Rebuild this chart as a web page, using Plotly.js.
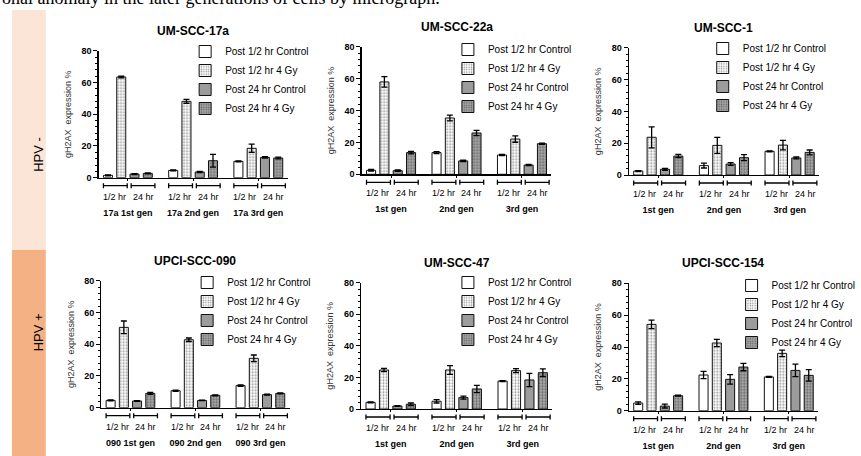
<!DOCTYPE html>
<html><head><meta charset="utf-8">
<script src="https://cdn.plot.ly/plotly-3.0.1.min.js"></script>
<style>html,body{margin:0;padding:0;background:#fff}#chart{width:861px;height:456px}</style>
</head><body><div id="chart"></div>
<script>
// ---------- data ----------
const seriesNames = ["Post 1/2 hr Control", "Post 1/2 hr 4 Gy", "Post 24 hr Control", "Post 24 hr 4 Gy"];
const panelTitles = ["UM-SCC-17a", "UM-SCC-22a", "UM-SCC-1", "UPCI-SCC-090", "UM-SCC-47", "UPCI-SCC-154"];
const gens17a = ["17a 1st gen", "17a 2nd gen", "17a 3rd gen"];
const gensPlain = ["1st gen", "2nd gen", "3rd gen"];
const gens090 = ["090 1st gen", "090 2nd gen", "090 3rd gen"];
const timeLabels = ["1/2 hr", "24 hr"];
const groupLabels = ["HPV -", "HPV +"];
const yTitle = "gH2AX  expression %";
const topText = "onal anomaly in the later generations of cells by micrograph.";

// rows = series (in seriesNames order), columns = generations
const um17aMean = [[1.5, 4.6, 10.3], [63.4, 48.1, 18.5], [2.3, 3.6, 12.8], [2.7, 10.7, 12.4]];
const um17aErr  = [[0.3, 0.3, 0.3], [0.5, 1.2, 2.6], [0.3, 0.4, 0.4], [0.3, 4.0, 0.5]];
const um22aMean = [[2.5, 13.6, 12.1], [57.9, 35.3, 22.1], [2.3, 8.4, 5.8], [13.6, 25.9, 19.2]];
const um22aErr  = [[0.5, 0.6, 0.4], [3.3, 1.8, 2.0], [0.4, 0.4, 0.4], [0.8, 1.6, 0.4]];
const um1Mean   = [[2.5, 5.9, 14.9], [23.7, 18.6, 18.8], [3.6, 6.9, 10.7], [11.9, 10.9, 14.2]];
const um1Err    = [[0.3, 1.5, 0.3], [6.6, 5.0, 3.0], [0.6, 0.9, 0.6], [1.0, 1.9, 1.5]];
const upci090Mean = [[4.6, 10.7, 13.9], [50.6, 42.8, 31.1], [4.2, 4.6, 8.2], [9.0, 7.8, 9.0]];
const upci090Err  = [[0.3, 0.4, 0.4], [4.0, 1.1, 2.1], [0.2, 0.2, 0.3], [0.6, 0.3, 0.3]];
const um47Mean  = [[4.2, 4.9, 17.7], [24.7, 24.7, 24.3], [1.9, 7.2, 18.4], [3.0, 12.7, 23.0]];
const um47Err   = [[0.3, 1.1, 0.3], [1.0, 2.8, 1.3], [0.3, 1.0, 4.2], [0.8, 2.3, 2.4]];
const upci154Mean = [[4.8, 22.4, 21.2], [54.2, 42.5, 36.0], [2.9, 19.7, 25.3], [9.4, 27.4, 22.2]];
const upci154Err  = [[0.8, 2.3, 0.3], [2.7, 2.3, 2.0], [1.2, 3.0, 3.9], [0.3, 2.3, 3.6]];

// ---------- build ----------
const W = 861, H = 456;
const FONT = "Liberation Sans, Arial, sans-serif";
const panelGens = [gens17a, gensPlain, gensPlain, gens090, gensPlain, gensPlain];
const panelMeans = [um17aMean, um22aMean, um1Mean, upci090Mean, um47Mean, upci154Mean];
const panelErrs = [um17aErr, um22aErr, um1Err, upci090Err, um47Err, upci154Err];

// plot boxes in pixels: left, right, top, bottom
const boxes = [
  [99, 289, 50.7, 177.7],
  [363.3, 554, 46.7, 174.3],
  [631.7, 823, 47.7, 175],
  [101.7, 291, 280.7, 407.7],
  [362.7, 555, 282.7, 409],
  [631.7, 822, 283.3, 410.7]
];
const legendPos = [[186, 37], [450, 35], [706, 34], [188, 268], [450, 268], [735, 271]];

const lineStyle = {color: '#111', width: 1};
const styles = [
  {color: '#ffffff', line: lineStyle},
  {color: '#ffffff', line: lineStyle, pattern: {shape: '.', fillmode: 'replace', bgcolor: '#ffffff', fgcolor: '#909090', size: 3, solidity: 0.3}},
  {color: '#9c9c9c', line: lineStyle},
  {color: '#a4a4a4', line: lineStyle, pattern: {shape: '.', fillmode: 'replace', bgcolor: '#a6a6a6', fgcolor: '#606060', size: 3, solidity: 0.3}}
];

const traces = [];
const layout = {
  width: W, height: H,
  margin: {l: 0, r: 0, t: 0, b: 0},
  paper_bgcolor: '#ffffff', plot_bgcolor: 'rgba(0,0,0,0)',
  font: {family: FONT, color: '#000'},
  barmode: 'group', bargap: 0.186, bargroupgap: 0.32,
  showlegend: true,
  shapes: [], annotations: []
};

// side bands
layout.shapes.push({type: 'rect', xref: 'paper', yref: 'paper', x0: 12 / W, x1: 46 / W, y0: 1 - 250 / H, y1: 1 - 10 / H, fillcolor: '#FBE5D6', line: {width: 0}, layer: 'below'});
layout.shapes.push({type: 'rect', xref: 'paper', yref: 'paper', x0: 12 / W, x1: 46 / W, y0: 0, y1: 1 - 250 / H, fillcolor: '#F4B183', line: {width: 0}, layer: 'below'});
layout.annotations.push({xref: 'paper', yref: 'paper', x: 29 / W, y: 1 - 135 / H, text: groupLabels[0], textangle: -90, showarrow: false, font: {size: 13, family: FONT}});
layout.annotations.push({xref: 'paper', yref: 'paper', x: 29 / W, y: 1 - 353 / H, text: groupLabels[1], textangle: -90, showarrow: false, font: {size: 13, family: FONT}});
layout.annotations.push({xref: 'paper', yref: 'paper', x: 0, y: 1 - 10 / H, xanchor: 'left', yanchor: 'bottom', text: topText, showarrow: false, font: {size: 18, family: 'Liberation Serif, Times New Roman, serif'}});

const bracketX = [[-0.375, -0.01], [0.05, 0.415]];
const labelX = [-0.205, 0.235];

for (let s = 0; s < 6; s++) {
  const suf = s === 0 ? '' : String(s + 1);
  const xa = 'x' + suf, ya = 'y' + suf;
  const b = boxes[s];
  for (let k = 0; k < 4; k++) {
    traces.push({
      type: 'bar', name: seriesNames[k],
      x: panelGens[s], y: panelMeans[s][k],
      error_y: {type: 'data', array: panelErrs[s][k], visible: true, color: '#000', thickness: 1.3, width: 3},
      marker: styles[k], xaxis: xa, yaxis: ya, legend: 'legend' + suf,
      hoverinfo: 'skip'
    });
  }
  layout['xaxis' + suf] = {
    domain: [b[0] / W, b[1] / W], anchor: ya, type: 'category', range: [-0.45, 2.45],
    showline: true, linecolor: '#000', linewidth: 1.2, ticks: 'outside', ticklen: 2, tickcolor: '#000',
    tickfont: {size: 9, family: FONT, weight: 'bold'}, ticklabelstandoff: 24,
    showgrid: false, zeroline: false, automargin: false, fixedrange: true
  };
  layout['yaxis' + suf] = {
    domain: [1 - b[3] / H, 1 - b[2] / H], anchor: xa, range: [0, 80], dtick: 20,
    showline: true, linecolor: '#000', linewidth: 1.2, ticks: 'outside', ticklen: 4, tickcolor: '#000',
    minor: {dtick: 4, ticks: 'outside', ticklen: 2, tickcolor: '#000'},
    tickfont: {size: 9, family: FONT, weight: 'bold'},
    title: {text: yTitle, font: {size: 9, family: FONT, color: '#333'}, standoff: 8},
    showgrid: false, zeroline: false, automargin: false, fixedrange: true
  };
  layout['legend' + suf] = {
    x: legendPos[s][0] / W, y: 1 - legendPos[s][1] / H, xanchor: 'left', yanchor: 'top',
    bgcolor: 'rgba(0,0,0,0)', borderwidth: 0, font: {size: 10, family: FONT, color: '#000'},
    tracegroupgap: 0, traceorder: 'normal'
  };
  layout.annotations.push({
    xref: xa + ' domain', yref: ya + ' domain', x: 0.5, y: 1 + 20 / (b[3] - b[2]), yanchor: 'middle',
    text: '<b>' + panelTitles[s] + '</b>', showarrow: false, font: {size: 12, family: FONT}
  });
  const bh = b[3] - b[2];
  for (let g = 0; g < 3; g++) {
    for (let t = 0; t < 2; t++) {
      const x0 = g + bracketX[t][0], x1 = g + bracketX[t][1];
      const yl = -8 / bh, ytop = -5.5 / bh, ybot = -10.5 / bh;
      const common = {type: 'line', xref: xa, yref: ya + ' domain', line: {color: '#000', width: 1.3}};
      layout.shapes.push(Object.assign({x0: x0, x1: x1, y0: yl, y1: yl}, common));
      layout.shapes.push(Object.assign({x0: x0, x1: x0, y0: ytop, y1: ybot}, common));
      layout.shapes.push(Object.assign({x0: x1, x1: x1, y0: ytop, y1: ybot}, common));
      layout.annotations.push({
        xref: xa, yref: ya + ' domain', x: g + labelX[t], y: -19 / bh, yanchor: 'middle',
        text: timeLabels[t], showarrow: false, font: {size: 9, family: FONT}
      });
    }
  }
}

Plotly.newPlot('chart', traces, layout, {staticPlot: true, displayModeBar: false});
</script>
</body></html>
